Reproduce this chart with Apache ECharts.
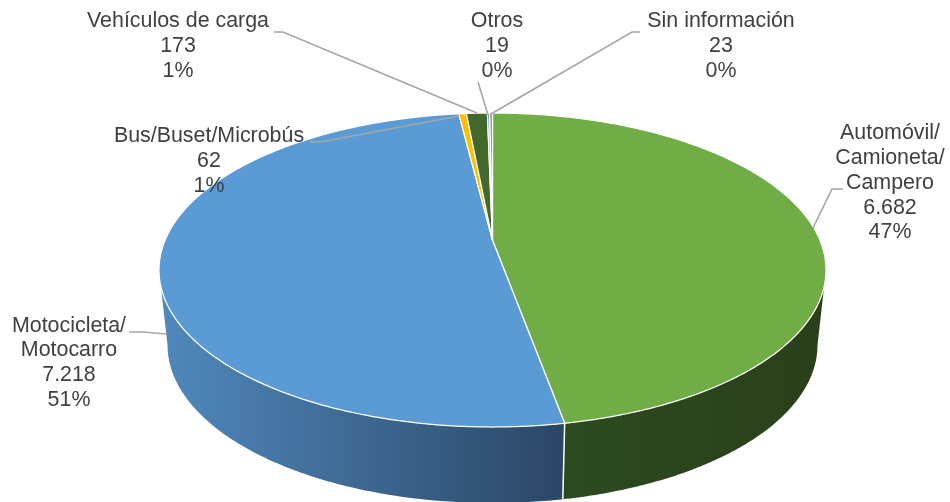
<!DOCTYPE html>
<html lang="es">
<head>
<meta charset="utf-8">
<title>Vehículos</title>
<script src="https://cdn.jsdelivr.net/npm/echarts@6/dist/echarts.min.js"></script>
<style>
html, body { margin: 0; padding: 0; background: #fff; }
#chart { width: 950px; height: 502px; }
</style>
</head>
<body>
<div id="chart"></div>
<script>
// clockwise from the top of the pie
const categories = ['Automóvil/\nCamioneta/\nCampero', 'Motocicleta/\nMotocarro', 'Bus/Buset/Microbús', 'Vehículos de carga', 'Otros', 'Sin información']
const values = [6682, 7218, 62, 173, 19, 23]
const percentLabels = ['47%', '51%', '1%', '1%', '0%', '0%']

const faceColors = ['#70ad47', '#5b9bd5', '#ffc000', '#43682b', '#5b9bd5', '#a58a3c']
const wallColors = {
  0: ['#2c4a1f', '#2a3f1a'],
  1: ['#5089bd', '#2b4666']
}

// label centre and leader line, same order as categories
const labelCenters = [[890, 183], [69, 363], [209, 161], [178, 46], [497, 46], [721, 46]]
const leaderLines = [
  [[843, 189], [832, 189], [813, 228]],
  [[129, 332], [143, 332], [167, 334]],
  [[310, 142], [320, 142], [459, 116]],
  [[274, 32], [283, 32], [477, 113]],
  [[478, 82], [488, 115]],
  [[640, 32], [632, 32], [491, 114]]
]

const total = values.reduce((sum, v) => sum + v, 0)
const starts = values.map((_, i) => values.slice(0, i).reduce((sum, v) => sum + v, 0))

const topEllipse = { cx: 492.5, cy: 270, rx: 333.5, ry: 157 }
const bottomEllipse = { cx: 492.5, cy: 345, rx: 325, ry: 158 }
// perspective: the centre of the pie sits above the centre of the ellipse
const tilt = -0.19
const wallFrom = Math.acos(tilt) // right edge of the visible side
const wallTo = 2 * Math.PI - wallFrom // left edge
const centerPoint = [topEllipse.cx, topEllipse.cy + topEllipse.ry * tilt]

const project = (angle, e) => {
  const u = Math.sin(angle)
  const v = -Math.cos(angle)
  const d = 1 + tilt * v
  return [
    e.cx + e.rx * u * Math.sqrt(1 - tilt * tilt) / d,
    e.cy + e.ry * (v + tilt) / d
  ]
}

const arc = (a0, a1, e) => {
  const steps = Math.max(2, Math.ceil((a1 - a0) / 0.01))
  const points = []
  for (let i = 0; i <= steps; i++) points.push(project(a0 + (a1 - a0) * i / steps, e))
  return points
}

const renderSlice = (params, api) => {
  const i = params.dataIndex
  const a0 = api.value(1) / total * 2 * Math.PI
  const a1 = (api.value(1) + api.value(0)) / total * 2 * Math.PI
  const children = []

  const w0 = Math.max(a0, wallFrom)
  const w1 = Math.min(a1, wallTo)
  if (w1 > w0 && wallColors[i]) {
    children.push({
      type: 'polygon',
      z2: 1,
      shape: { points: arc(w0, w1, topEllipse).concat(arc(w0, w1, bottomEllipse).reverse()) },
      style: {
        fill: new echarts.graphic.LinearGradient(0, 0, 1, 0, [
          { offset: 0, color: wallColors[i][0] },
          { offset: 1, color: wallColors[i][1] }
        ]),
        stroke: null
      }
    })
    // white seam between the two sides
    if (a1 < wallTo && a1 > wallFrom) {
      children.push({
        type: 'line',
        z2: 2,
        shape: {
          x1: project(a1, topEllipse)[0], y1: project(a1, topEllipse)[1],
          x2: project(a1, bottomEllipse)[0], y2: project(a1, bottomEllipse)[1]
        },
        style: { stroke: '#fff', lineWidth: 1.5 }
      })
    }
  }

  children.push({
    type: 'polygon',
    z2: 10,
    shape: { points: [centerPoint].concat(arc(a0, a1, topEllipse)) },
    style: { fill: faceColors[i], stroke: '#fff', lineWidth: 1.25, lineJoin: 'round' }
  })
  return { type: 'group', children }
}

const formatValue = v => String(v).replace(/\B(?=(\d{3})+$)/g, '.')

const renderLabel = (params, api) => {
  const i = params.dataIndex
  return {
    type: 'group',
    children: [
      {
        type: 'polyline',
        shape: { points: leaderLines[i] },
        style: { stroke: '#a5a5a5', lineWidth: 1.6, fill: null }
      },
      {
        type: 'text',
        x: labelCenters[i][0],
        y: labelCenters[i][1],
        style: {
          text: categories[i] + '\n' + formatValue(api.value(0)) + '\n' + percentLabels[i],
          fill: '#404040',
          fontFamily: '"Liberation Sans", Arial, sans-serif',
          fontSize: 21.4,
          lineHeight: 24.8,
          align: 'center',
          verticalAlign: 'middle'
        }
      }
    ]
  }
}

const chartInstance = echarts.init(document.getElementById('chart'))
chartInstance.setOption({
  animation: false,
  backgroundColor: '#fff',
  series: [
    {
      type: 'custom',
      coordinateSystem: 'none',
      renderItem: renderSlice,
      data: values.map((v, i) => [v, starts[i]]),
      z: 1,
      silent: true
    },
    {
      type: 'custom',
      coordinateSystem: 'none',
      renderItem: renderLabel,
      data: values.map(v => [v]),
      z: 2,
      silent: true
    }
  ]
})
</script>
</body>
</html>
